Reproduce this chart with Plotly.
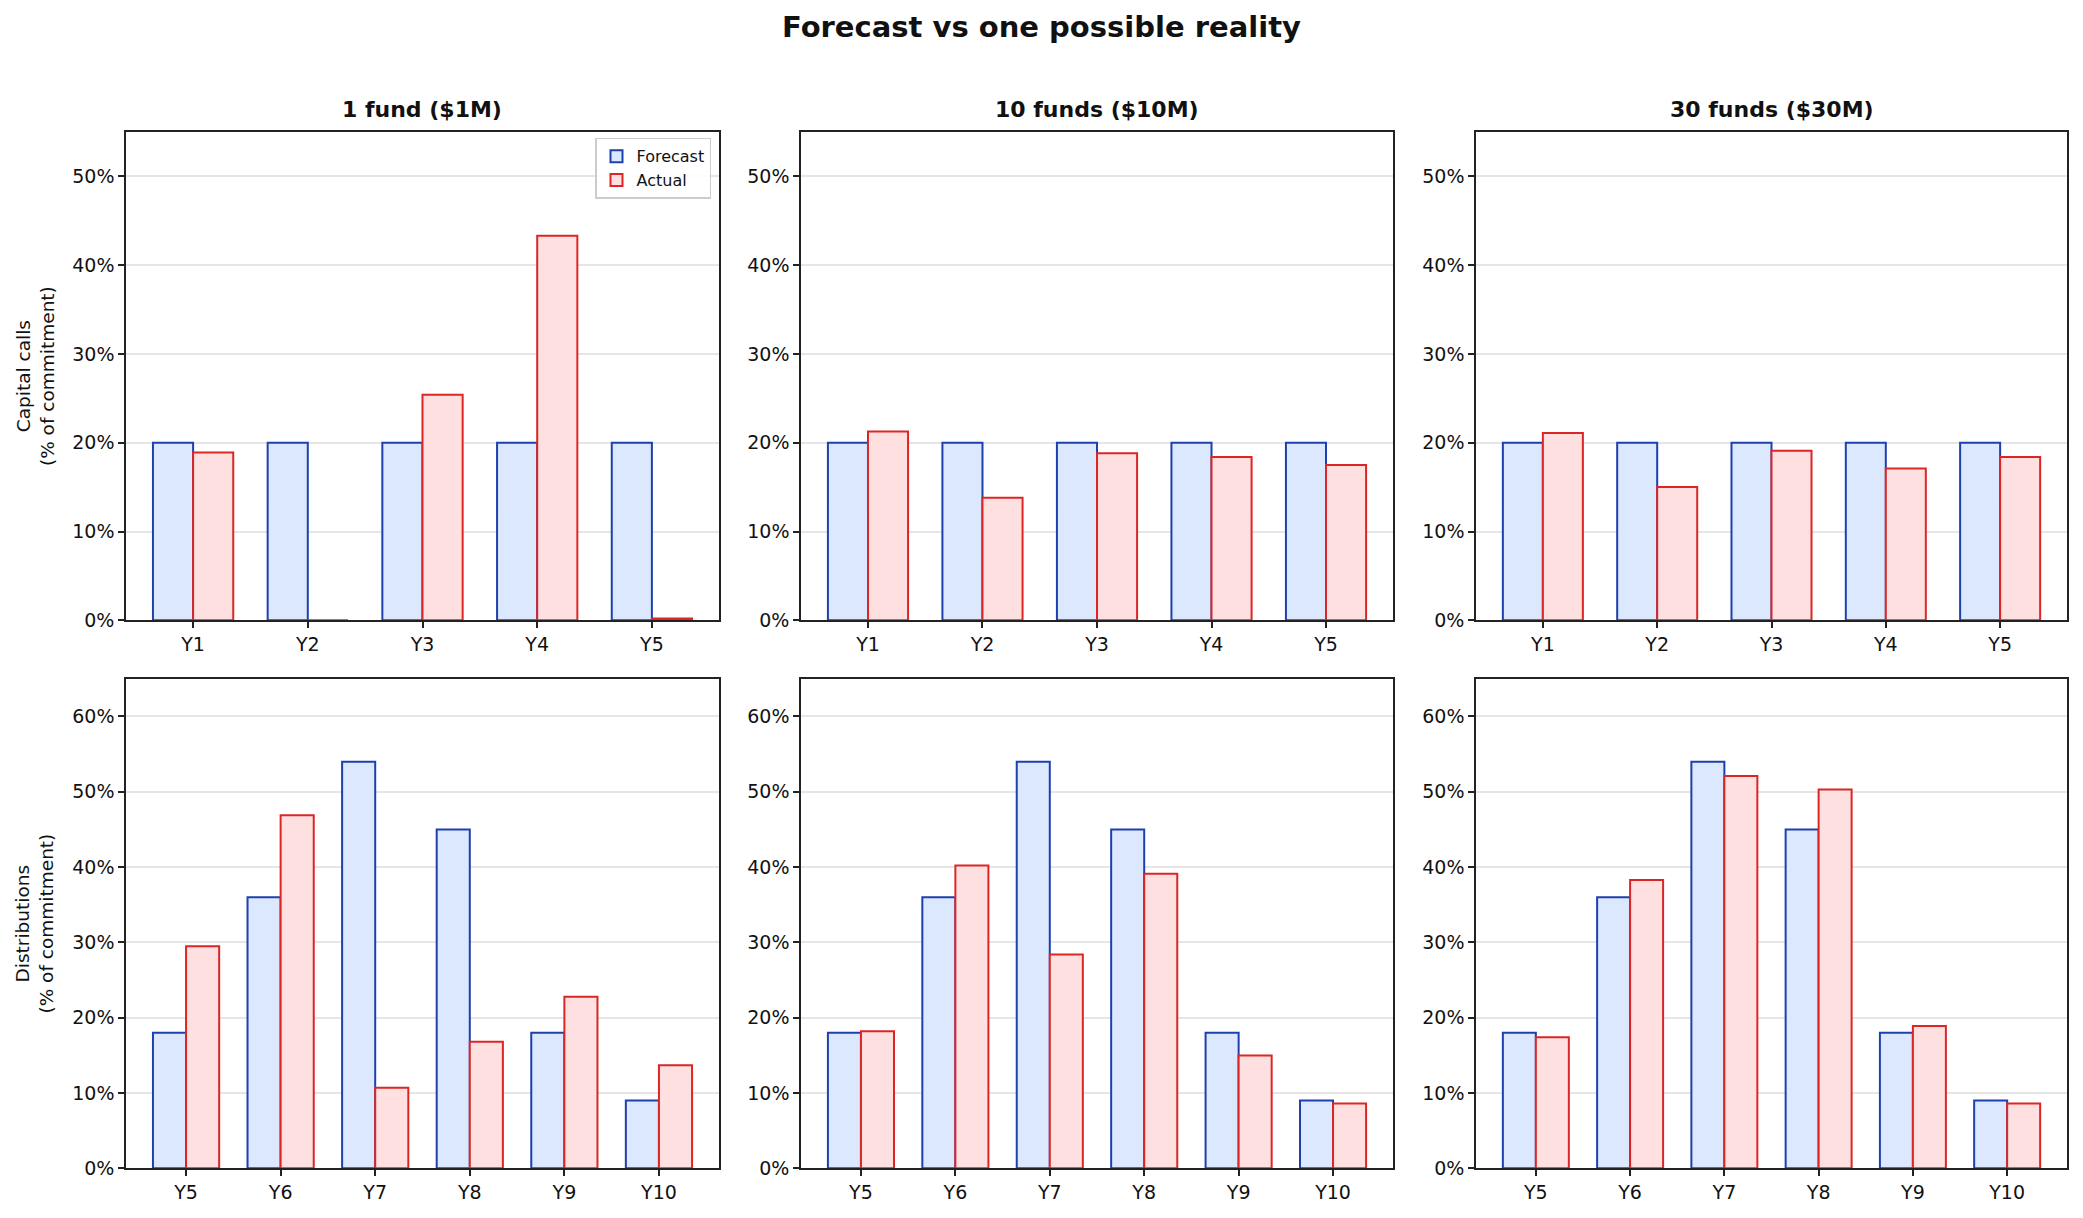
import plotly.graph_objects as go
from plotly.subplots import make_subplots

# ---- data ----
panel_titles = ["1 fund ($1M)", "10 funds ($10M)", "30 funds ($30M)"]
call_years = ["Y1", "Y2", "Y3", "Y4", "Y5"]
dist_years = ["Y5", "Y6", "Y7", "Y8", "Y9", "Y10"]

calls_forecast = [20, 20, 20, 20, 20]
calls_actual_1 = [18.9, 0.0, 25.4, 43.3, 0.2]
calls_actual_10 = [21.25, 13.8, 18.8, 18.4, 17.5]
calls_actual_30 = [21.1, 15.0, 19.1, 17.1, 18.4]

dist_forecast = [18, 36, 54, 45, 18, 9]
dist_actual_1 = [29.5, 46.9, 10.7, 16.8, 22.8, 13.7]
dist_actual_10 = [18.2, 40.2, 28.4, 39.1, 15.0, 8.6]
dist_actual_30 = [17.4, 38.3, 52.1, 50.3, 18.9, 8.6]

calls_ticks = [0, 10, 20, 30, 40, 50]
dist_ticks = [0, 10, 20, 30, 40, 50, 60]

calls_actuals = [calls_actual_1, calls_actual_10, calls_actual_30]
dist_actuals = [dist_actual_1, dist_actual_10, dist_actual_30]

# ---- style ----
FONT = "DejaVu Sans"
F_FILL, F_EDGE = "#dbe8fd", "#1e40af"
A_FILL, A_EDGE = "#fee0e0", "#dc2626"
AX = "#222222"
W, H = 2083, 1218

fig = make_subplots(rows=2, cols=3)

for c in range(3):
    fig.add_trace(go.Bar(x=call_years, y=calls_forecast, name="Forecast",
                         marker=dict(color=F_FILL, line=dict(color=F_EDGE, width=2)),
                         showlegend=(c == 0), legendgroup="f"), row=1, col=c + 1)
    fig.add_trace(go.Bar(x=call_years, y=calls_actuals[c], name="Actual",
                         marker=dict(color=A_FILL, line=dict(color=A_EDGE, width=2)),
                         showlegend=(c == 0), legendgroup="a"), row=1, col=c + 1)
    fig.add_trace(go.Bar(x=dist_years, y=dist_forecast, name="Forecast",
                         marker=dict(color=F_FILL, line=dict(color=F_EDGE, width=2)),
                         showlegend=False, legendgroup="f"), row=2, col=c + 1)
    fig.add_trace(go.Bar(x=dist_years, y=dist_actuals[c], name="Actual",
                         marker=dict(color=A_FILL, line=dict(color=A_EDGE, width=2)),
                         showlegend=False, legendgroup="a"), row=2, col=c + 1)

xdoms = [[126 / W, 719 / W], [801 / W, 1393 / W], [1476 / W, 2067 / W]]
ydom_top = [1 - 626 / H, 1 - 133 / H]
ydom_bot = [1 - 1179 / H, 1 - 685 / H]

axis_common = dict(showline=True, linecolor=AX, linewidth=1.5, mirror=True,
                   ticks="outside", ticklen=6, tickwidth=1.5, tickcolor=AX,
                   tickfont=dict(family=FONT, size=19, color="#111"),
                   zeroline=False)

for c in range(3):
    fig.update_xaxes(domain=xdoms[c], range=[-0.585, 4.585], showgrid=False,
                     **axis_common, row=1, col=c + 1)
    fig.update_xaxes(domain=xdoms[c], range=[-0.635, 5.635], showgrid=False,
                     **axis_common, row=2, col=c + 1)
    fig.update_yaxes(domain=ydom_top, range=[0, 55], tickmode="array",
                     tickvals=calls_ticks, ticktext=[f"{v}%" for v in calls_ticks],
                     showgrid=True, gridcolor="#e6e6e6", gridwidth=1.5,
                     **axis_common, row=1, col=c + 1)
    fig.update_yaxes(domain=ydom_bot, range=[0, 65], tickmode="array",
                     tickvals=dist_ticks, ticktext=[f"{v}%" for v in dist_ticks],
                     showgrid=True, gridcolor="#e6e6e6", gridwidth=1.5,
                     **axis_common, row=2, col=c + 1)

annotations = []
annotations.append(dict(text="<b>Forecast vs one possible reality</b>", x=0.5, y=1 - 27 / H,
                        xref="paper", yref="paper", xanchor="center", yanchor="middle",
                        showarrow=False, font=dict(family=FONT, size=29, color="#111")))
for c in range(3):
    annotations.append(dict(text="<b>" + panel_titles[c] + "</b>",
                            x=(xdoms[c][0] + xdoms[c][1]) / 2, y=1 - 111 / H,
                            xref="paper", yref="paper", xanchor="center", yanchor="middle",
                            showarrow=False, font=dict(family=FONT, size=22, color="#111")))
annotations.append(dict(text="Capital calls<br>(% of commitment)", x=35 / W,
                        y=(ydom_top[0] + ydom_top[1]) / 2, xref="paper", yref="paper",
                        xanchor="center", yanchor="middle", textangle=-90, showarrow=False,
                        font=dict(family=FONT, size=18.5, color="#111")))
annotations.append(dict(text="Distributions<br>(% of commitment)", x=35 / W,
                        y=(ydom_bot[0] + ydom_bot[1]) / 2, xref="paper", yref="paper",
                        xanchor="center", yanchor="middle", textangle=-90, showarrow=False,
                        font=dict(family=FONT, size=18.5, color="#111")))

fig.update_layout(
    width=W, height=H, margin=dict(l=0, r=0, t=0, b=0),
    paper_bgcolor="white", plot_bgcolor="white",
    barmode="group", bargap=0.3, bargroupgap=0,
    font=dict(family=FONT, color="#111"),
    annotations=annotations,
    legend=dict(x=711 / W, y=1 - 139 / H, xanchor="right", yanchor="top",
                bgcolor="rgba(255,255,255,0.85)", bordercolor="#cccccc", borderwidth=1.5,
                font=dict(family=FONT, size=16, color="#111"), tracegroupgap=0),
)

fig.write_html("out.html")
